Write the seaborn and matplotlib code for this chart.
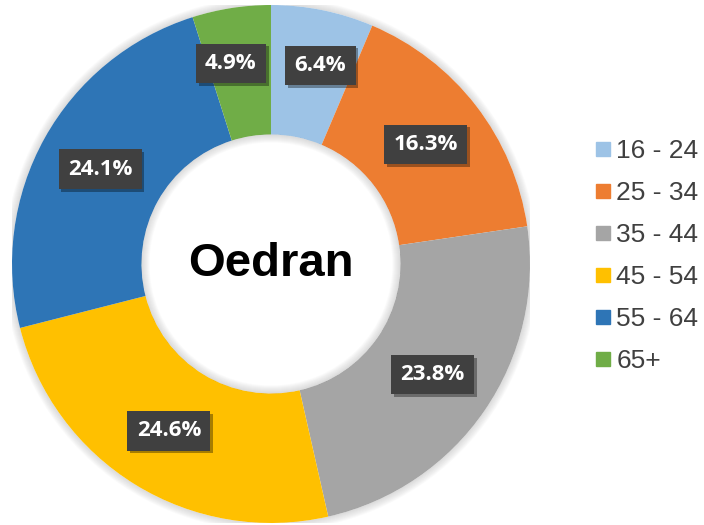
import matplotlib
matplotlib.use("Agg")
import numpy as np
import matplotlib.pyplot as plt
import matplotlib.patheffects as pe
from matplotlib.lines import Line2D
from matplotlib.patches import Wedge
import seaborn as sns

categories = ["16 - 24", "25 - 34", "35 - 44", "45 - 54", "55 - 64", "65+"]
values = [6.4, 16.3, 23.8, 24.6, 24.1, 4.9]
colors = ["#9DC3E6", "#ED7D31", "#A5A5A5", "#FFC000", "#2E75B6", "#70AD47"]
center_title = "Oedran"

sns.set_theme(style="white")
plt.rcParams["font.family"] = ["Liberation Sans", "DejaVu Sans"]

W, H = 704, 525
fig = plt.figure(figsize=(W / 100, H / 100), dpi=100)
cx, cy, R = 271, 264, 259
ax = fig.add_axes([(cx - R) / W, (H - cy - R) / H, 2 * R / W, 2 * R / H])

# soft glow around the ring
px = 1.0 / R
for d in range(1, 9):
    ax.add_patch(Wedge((0, 0), 1 + d * px, 0, 360, width=d * px,
                       facecolor="#808080", edgecolor="none", alpha=0.035, zorder=0))
    ax.add_patch(Wedge((0, 0), 0.5, 0, 360, width=d * px,
                       facecolor="#808080", edgecolor="none", alpha=0.035, zorder=3))

wedges, texts, autotexts = ax.pie(
    values, colors=colors, startangle=90, counterclock=False, radius=1.0,
    wedgeprops=dict(width=0.5, edgecolor="none", linewidth=0),
    autopct=lambda p: f"{p:.1f}%", pctdistance=0.755,
    textprops=dict(color="white", fontsize=16, fontweight="bold",
                   family=["Open Sans", "DejaVu Sans"]),
)
ax.set_xlim(-1, 1)
ax.set_ylim(-1, 1)
ax.set_aspect("equal")
ax.axis("off")

# push labels of the thin slices a bit outward and apart
for w, t, v in zip(wedges, autotexts, values):
    if v < 8:
        mid = (w.theta1 + w.theta2) / 2
        side = 1 if np.cos(np.radians(mid)) > 0 else -1
        ang = np.radians(mid - side * 2.5)
        t.set_position((0.79 * np.cos(ang), 0.79 * np.sin(ang)))

for t in autotexts:
    t.set_zorder(5)
    t.set_bbox(dict(boxstyle="square,pad=0.42", facecolor="#404040",
                    edgecolor="none"))
    t.get_bbox_patch().set_path_effects(
        [pe.SimplePatchShadow(offset=(2, -2), shadow_rgbFace="#000000", alpha=0.35),
         pe.Normal()])

ax.text(0, 0, center_title, ha="center", va="center", fontsize=34,
        fontweight="bold", color="black", zorder=5)

handles = [Line2D([0], [0], marker="s", linestyle="none", markersize=10,
                  markerfacecolor=c, markeredgecolor=c) for c in colors]
leg = fig.legend(handles, categories, loc="center left",
                 bbox_to_anchor=(596 / W, 1 - 256 / H), frameon=False,
                 fontsize=19, handlelength=0.55, handletextpad=0.22,
                 labelspacing=0.68, borderaxespad=0, borderpad=0)
for t in leg.get_texts():
    t.set_color("#404040")

fig.savefig("out.png", dpi=100)
